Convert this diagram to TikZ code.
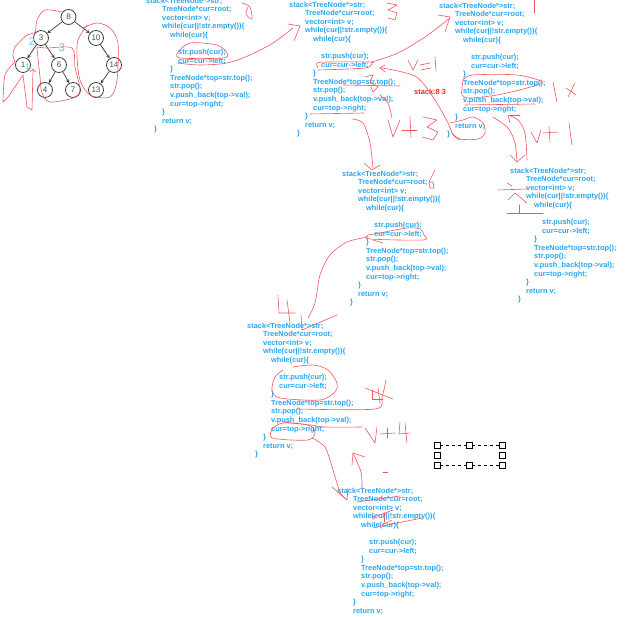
\documentclass[tikz,border=0pt]{standalone}
\usepackage{fontspec}
\setmainfont{Liberation Sans}
\definecolor{codeblue}{RGB}{40,165,240}
\definecolor{inkred}{RGB}{240,85,95}
\tikzset{
  treenode/.style={draw=black!75,circle,line width=0.8pt,minimum size=15pt,inner sep=0pt,text=black!70,font=\fontsize{8}{8}\selectfont},
  treeedge/.style={->,>=stealth,draw=black!75,line width=0.7pt},
  codeline/.style={anchor=west,inner sep=0pt,text=codeblue,font=\bfseries\fontsize{7.4}{8}\selectfont},
  bluemark/.style={inner sep=0pt,text=codeblue!70,font=\fontsize{11}{11}\selectfont},
  ink/.style={draw=inkred,line width=0.6pt,line join=round,line cap=round},
  handle/.style={draw=black,fill=white,rectangle,line width=0.8pt,minimum size=6pt,inner sep=0pt},
  handleline/.style={draw=black,line width=0.7pt,dashed}
}
\begin{document}
\begin{tikzpicture}[x=1pt,y=-1pt]
\clip (0,0) rectangle (641,617);
\node[treenode] (n8) at (68.5,17) {8};
\node[treenode] (n3) at (41,38) {3};
\node[treenode] (n10) at (96,38) {10};
\node[treenode] (n1) at (23,65) {1};
\node[treenode] (n6) at (59,65) {6};
\node[treenode] (n14) at (114,65) {14};
\node[treenode] (n4) at (45,90) {4};
\node[treenode] (n7) at (73,90) {7};
\node[treenode] (n13) at (96,90) {13};
\draw[treeedge] (n8) -- (n3);
\draw[treeedge] (n8) -- (n10);
\draw[treeedge] (n3) -- (n1);
\draw[treeedge] (n3) -- (n6);
\draw[treeedge] (n10) -- (n14);
\draw[treeedge] (n6) -- (n4);
\draw[treeedge] (n6) -- (n7);
\draw[treeedge] (n14) -- (n13);
\node[bluemark] (mark2) at (32,42) {2};
\node[bluemark] (mark3) at (62,48) {3};
\node[bluemark,font=\fontsize{8}{8}\selectfont] (mark1) at (27.5,67) {1};
% code blocks
\foreach \blk/\px/\py in {a/146/1,b/289/5,c/439/6,d/342/174,e/510/171,f/247/326,g/337/491}{
  \node[codeline] (\blk0) at (\px,\py) {stack<TreeNode*>str;};
  \node[codeline] (\blk1) at (\px+16,\py+8.6) {TreeNode*cur=root;};
  \node[codeline] (\blk2) at (\px+16,\py+17.2) {vector<int> v;};
  \node[codeline] (\blk3) at (\px+16,\py+25.8) {while(cur||!str.empty())\{};
  \node[codeline] (\blk4) at (\px+24,\py+34.4) {while(cur)\{};
  \node[codeline] (\blk5) at (\px+32,\py+51.6) {str.push(cur);};
  \node[codeline] (\blk6) at (\px+32,\py+60.2) {cur=cur->left;};
  \node[codeline] (\blk7) at (\px+24,\py+68.8) {\}};
  \node[codeline] (\blk8) at (\px+24,\py+77.4) {TreeNode*top=str.top();};
  \node[codeline] (\blk9) at (\px+24,\py+86) {str.pop();};
  \node[codeline] (\blk10) at (\px+24,\py+94.6) {v.push\_back(top->val);};
  \node[codeline] (\blk11) at (\px+24,\py+103.2) {cur=top->right;};
  \node[codeline] (\blk12) at (\px+16,\py+111.8) {\}};
  \node[codeline] (\blk13) at (\px+16,\py+120.4) {return v;};
}
\foreach \blk/\px/\py in {a/146/1,b/289/5,c/439/6,d/342/174,e/510/171,f/247/326}{
  \node[codeline] (\blk14) at (\px+8,\py+129) {\}};
}
\node[anchor=west,inner sep=0pt,text=red!85!white,font=\bfseries\fontsize{7.4}{8}\selectfont] (stacklabel) at (414,92) {stack:8 3};
% tree strokes
\draw[ink] plot[smooth] coordinates {(15,62) (13,55) (15,47) (27,35) (35,32) (37,20) (45,10) (62,12)};
\draw[ink] plot[smooth] coordinates {(15,62) (5,75) (3,102)} -- plot[smooth] coordinates {(3,102) (8,97) (23,75)};
\draw[ink] (23,75) -- (27,107) -- (32,110) -- (33,70);
\draw[ink] (30,72) -- (33,69) -- (36,72);
\draw[ink] plot[smooth] coordinates {(37,48) (40,77) (42,93) (50,102) (73,98) (80,90) (75,67) (72,48) (47,48) (37,47)};
\draw[ink] plot[smooth] coordinates {(87,25) (78,40) (77,57) (80,80) (90,95) (110,97) (117,80) (118,43) (110,28) (97,23) (83,28)};
% first block
\draw[ink] plot[smooth] coordinates {(178,52) (190,43) (217,45) (227,53) (223,58) (180,58) (178,52)};
\draw[ink] plot[smooth] coordinates {(177,63) (200,65) (227,63) (250,55) (273,43) (293,28)};
\draw[ink] (288,24) -- (300,26) -- (294,41);
\draw[ink] plot[smooth] coordinates {(242,3) (250,7) (252,19) (246,14) (248,7)};
% second block
\draw[ink] plot coordinates {(387,3) (397,5) (388,10) (397,13) (395,20) (388,18)};
\draw[ink] plot[smooth] coordinates {(318,68) (317,63) (328,62) (370,62) (372,63) (365,68) (318,70)};
\draw[ink] plot[smooth] coordinates {(372,62) (398,53) (425,37) (450,18)};
\draw[ink] (438,15) -- (450,17) -- (445,32);
\draw[ink] (343,85) -- (400,86);
\draw[ink] plot coordinates {(365,77) (373,75) (370,82) (378,87) (373,92) (371,87)};
\draw[ink] plot[smooth] coordinates {(380,95) (388,103) (392,118)};
\draw[ink] (310,114) -- (364,113);
\draw[ink] plot[smooth] coordinates {(352,119) (363,123) (370,143) (373,168)};
\draw[ink] (364,163) -- (372,170) -- (380,165);
\draw[ink] (388,120) -- (393,137) -- (400,120);
\draw[ink] (402,130) -- (417,130);
\draw[ink] (410,117) -- (411,137);
\draw[ink] plot coordinates {(423,117) (437,120) (427,127) (438,132) (433,140) (422,137)};
\draw[ink] (408,60) -- (413,70) -- (418,60);
\draw[ink] (420,65) -- (430,63);
\draw[ink] (421,70) -- (431,68);
\draw[ink] (435,57) -- (436,71);
\draw[ink] plot[smooth] coordinates {(381,68) (398,71) (418,78) (435,100) (448,123) (453,135) (460,140)};
\draw[ink] (385,65) -- (380,68) -- (385,72);
% third block
\draw[ink] (534,0) -- (534,13);
\draw[ink] plot[smooth] coordinates {(463,80) (473,75) (517,75) (542,82) (527,88) (497,95) (470,98) (462,95) (463,80)};
\draw[ink] (465,105) -- (535,104);
\draw[ink] plot[smooth] coordinates {(450,123) (463,120) (473,117) (483,123) (485,133) (478,139) (460,139) (452,133)};
\draw[ink] (553,82) -- (557,102);
\draw[ink] (566,88) -- (576,95);
\draw[ink] (575,83) -- (568,97);
\draw[ink] (531,132) -- (537,143) -- (541,130);
\draw[ink] (543,133) -- (558,132);
\draw[ink] (549,127) -- (550,142);
\draw[ink] (569,123) -- (572,145);
\draw[ink] (510,115) -- (520,115);
\draw[ink] plot[smooth] coordinates {(493,117) (508,128) (515,143) (517,162)};
\draw[ink] (510,155) -- (517,162) -- (525,155);
\draw[ink] plot[smooth] coordinates {(527,160) (525,133) (518,120) (508,115)};
\draw[ink] (510,123) -- (508,115);
% fourth block
\draw[ink] plot coordinates {(435,170) (429,182) (430,188) (434,188) (433,182) (430,182)};
\draw[ink] plot[smooth] coordinates {(368,235) (380,233) (407,228) (420,229) (424,235) (423,240) (370,239) (368,235)};
\draw[ink] (373,240) -- (383,243);
\draw[ink] plot[smooth] coordinates {(368,237) (347,242) (330,255) (320,275) (315,303) (308,318)};
\draw[ink] (301,315) -- (302,330) -- (337,315);
\draw[ink] (278,295) -- (279,313) -- (295,313);
\draw[ink] (287,300) -- (290,323);
% fifth block
\draw[ink] (498,190) -- (527,189);
\draw[ink] (507,183) -- (512,186);
\draw[ink] (508,200) -- (515,193) -- (527,203);
\draw[ink] (507,213) -- (543,213);
\draw[ink] (519,205) -- (519,213);
% sixth block
\draw[ink] plot[smooth] coordinates {(283,370) (275,377) (272,390) (280,398) (320,400) (335,392) (337,383) (328,370) (313,365) (293,367)};
\draw[ink] plot[smooth] coordinates {(298,409) (375,409) (382,397) (386,380)};
\draw[ink] (365,388) -- (393,399);
\draw[ink] (372,390) -- (372,399) -- (383,399);
\draw[ink] (378,388) -- (380,403);
\draw[ink] plot[smooth] coordinates {(283,422) (310,425) (325,427) (362,427)};
\draw[ink] plot[smooth] coordinates {(273,428) (272,438) (308,440) (315,432) (308,425) (283,423) (273,428)};
\draw[ink] plot[smooth] coordinates {(312,438) (325,447) (333,470) (340,492) (347,500)};
\draw[ink] (332,487) -- (347,500) -- (348,488);
\draw[ink] (365,428) -- (375,443) -- (377,427);
\draw[ink] (380,434) -- (395,433);
\draw[ink] (387,428) -- (387,438);
\draw[ink] (400,422) -- (399,434) -- (410,433);
\draw[ink] (405,423) -- (407,443);
\draw[ink] plot[smooth] coordinates {(362,488) (361,472) (353,453)};
\draw[ink] (352,465) -- (353,453) -- (365,457);
\draw[ink] (383,472) -- (388,472);
% last block
\draw[ink] (357,502) -- (400,496);
\draw[ink] (373,517) -- (385,513) -- (393,510);
\draw[ink] (384,513) -- (384,522);
\draw[ink] (373,528) -- (422,518);
\draw[ink] (382,525) -- (392,520);
\draw[ink] (372,515) -- (375,519);
% selection handles
\node[handle] (h1) at (437,445) {};
\node[handle] (h2) at (469,445) {};
\node[handle] (h3) at (502,445) {};
\node[handle] (h4) at (437,455) {};
\node[handle] (h5) at (502,455) {};
\node[handle] (h6) at (437,465) {};
\node[handle] (h7) at (469,465) {};
\node[handle] (h8) at (502,465) {};
\draw[handleline] (h1) -- (h2);
\draw[handleline] (h2) -- (h3);
\draw[handleline] (h6) -- (h7);
\draw[handleline] (h7) -- (h8);
\end{tikzpicture}
\end{document}
